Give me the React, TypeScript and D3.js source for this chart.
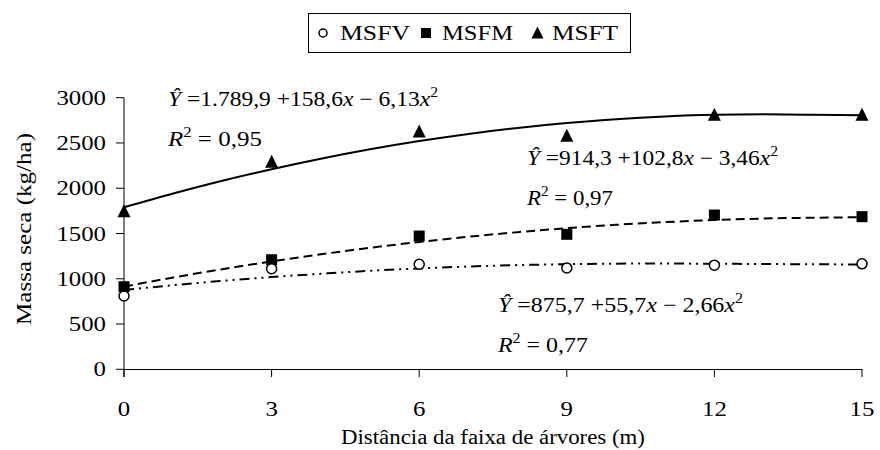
import React from 'react';
import * as d3 from 'd3';

// distances (m) where samples were taken
const distances = [0, 3, 6, 9, 12, 15];
// observed dry mass (kg/ha)
const msfv = [810, 1110, 1160, 1120, 1150, 1165];
const msfm = [912, 1210, 1472, 1491, 1704, 1686];
const msft = [1745, 2290, 2625, 2577, 2809, 2810];

// fitted curves read at every metre
const fitX = [0, 1, 2, 3, 4, 5, 6, 7, 8, 9, 10, 11, 12, 13, 14, 15];
const fitV = [876, 929, 977, 1019, 1055, 1088, 1114, 1135, 1151, 1161, 1167, 1168, 1166, 1163, 1160, 1158];
const fitM = [914, 1014, 1106, 1191, 1270, 1342, 1407, 1464, 1515, 1559, 1596, 1626, 1649, 1665, 1674, 1680];
const fitT = [1790, 1942, 2083, 2210, 2326, 2430, 2521, 2600, 2666, 2720, 2763, 2793, 2811, 2816, 2812, 2805];

const yTicks = [0, 500, 1000, 1500, 2000, 2500, 3000];
const xTicks = [0, 3, 6, 9, 12, 15];

const FONT = 'Liberation Serif';
const DIGIT = 12.4; // the source art is stretched sideways, so widths are set explicitly

export default function App() {
  const x = d3.scaleLinear().domain([0, 15]).range([124, 862]);
  const y = d3.scaleLinear().domain([0, 3000]).range([369.3, 97.7]);

  const line = (vals: number[]) =>
    d3.line<number>()
      .x((_, i) => x(fitX[i]))
      .y(d => y(d))
      .curve(d3.curveMonotoneX)(vals) || '';

  const tri = (cx: number, cy: number, s = 13) =>
    `M${cx},${cy - s * 0.55}L${cx + s / 2},${cy + s * 0.45}L${cx - s / 2},${cy + s * 0.45}Z`;

  const eq = (px: number, py: number, a: string, b: string, c: string, r: string, w1: number, w2: number) => (
    <g fill="#000">
      <text x={px} y={py} fontFamily={FONT} fontSize={21} textLength={w1} lengthAdjust="spacingAndGlyphs">
        <tspan fontStyle="italic">Ŷ</tspan>
        <tspan> ={a} +{b}</tspan>
        <tspan fontStyle="italic">x</tspan>
        <tspan> − {c}</tspan>
        <tspan fontStyle="italic">x</tspan>
        <tspan fontSize={14} dy={-9}>2</tspan>
      </text>
      <text x={px} y={py + 40} fontFamily={FONT} fontSize={21} textLength={w2} lengthAdjust="spacingAndGlyphs">
        <tspan fontStyle="italic">R</tspan>
        <tspan fontSize={14} dy={-9}>2</tspan>
        <tspan dy={9}> = {r}</tspan>
      </text>
    </g>
  );

  return (
    <svg width={880} height={450} style={{ position: 'absolute', left: 0, top: 0, background: '#fff' }}>
      <rect width={880} height={450} fill="#fff" />

      {/* legend */}
      <rect x={308.5} y={13.5} width={322} height={39} fill="#fff" stroke="#000" strokeWidth={1} />
      <circle cx={323} cy={33} r={4} fill="#fff" stroke="#000" strokeWidth={1.5} />
      <text x={340} y={40} fontFamily={FONT} fontSize={21} textLength={70} lengthAdjust="spacingAndGlyphs">MSFV</text>
      <rect x={421} y={28} width={10} height={10} fill="#000" />
      <text x={442} y={40} fontFamily={FONT} fontSize={21} textLength={71} lengthAdjust="spacingAndGlyphs">MSFM</text>
      <path d={tri(537.5, 33, 12)} fill="#000" />
      <text x={552} y={40} fontFamily={FONT} fontSize={21} textLength={66} lengthAdjust="spacingAndGlyphs">MSFT</text>

      {/* axes */}
      <line x1={124} x2={124} y1={97.7} y2={377} stroke="#000" strokeWidth={1} />
      <line x1={124} x2={862} y1={369.5} y2={369.5} stroke="#000" strokeWidth={1} />
      {yTicks.map(t => (
        <g key={t}>
          <line x1={116} x2={124} y1={y(t)} y2={y(t)} stroke="#000" />
          <text x={106} y={y(t) + 7} textAnchor="end" fontFamily={FONT} fontSize={21}
            textLength={String(t).length * DIGIT} lengthAdjust="spacingAndGlyphs">{t}</text>
        </g>
      ))}
      {xTicks.map(t => (
        <g key={t}>
          <line x1={x(t)} x2={x(t)} y1={369} y2={377} stroke="#000" />
          <text x={x(t)} y={416} textAnchor="middle" fontFamily={FONT} fontSize={21}
            textLength={String(t).length * DIGIT} lengthAdjust="spacingAndGlyphs">{t}</text>
        </g>
      ))}
      <text x={493} y={444} textAnchor="middle" fontFamily={FONT} fontSize={20}
        textLength={304} lengthAdjust="spacingAndGlyphs">Distância da faixa de árvores (m)</text>
      <text transform="translate(31,229) rotate(-90)" textAnchor="middle" fontFamily={FONT} fontSize={22}
        textLength={192} lengthAdjust="spacingAndGlyphs">Massa seca (kg/ha)</text>

      {/* fitted curves */}
      <path d={line(fitT)} fill="none" stroke="#000" strokeWidth={2} />
      <path d={line(fitM)} fill="none" stroke="#000" strokeWidth={2} strokeDasharray="9 5" />
      <path d={line(fitV)} fill="none" stroke="#000" strokeWidth={2} strokeDasharray="10 5 2 5 2 5" />

      {/* observed points */}
      {distances.map((d, i) => (
        <g key={d}>
          <path d={tri(x(d), y(msft[i]))} fill="#000" />
          <rect x={x(d) - 5.5} y={y(msfm[i]) - 5.5} width={11} height={11} fill="#000" />
          <circle cx={x(d)} cy={y(msfv[i])} r={5} fill="#fff" stroke="#000" strokeWidth={1.5} />
        </g>
      ))}

      {eq(168, 106, '1.789,9', '158,6', '6,13', '0,95', 270, 94)}
      {eq(527, 165, '914,3', '102,8', '3,46', '0,97', 251, 86)}
      {eq(498, 312, '875,7', '55,7', '2,66', '0,77', 245, 90)}
    </svg>
  );
}
